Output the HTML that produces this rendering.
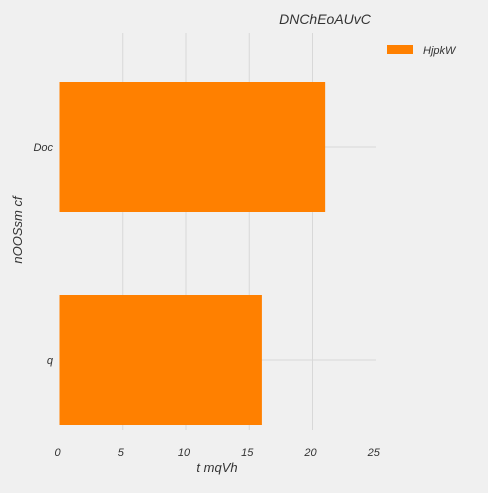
<!DOCTYPE html>
<html><head><meta charset="utf-8"><style>
body{margin:0;background:#f0f0f0;}
svg text{font-family:"Liberation Sans",sans-serif;font-style:italic;fill:#333;}
</style></head><body>
<svg width="488" height="488" xmlns="http://www.w3.org/2000/svg">
<rect width="488" height="488" fill="#f0f0f0"/>
<g id="grid"></g><g id="bars"></g><g id="labels"></g>
<text x="325" y="24" font-size="14" text-anchor="middle">DNChEoAUvC</text>
<rect x="387" y="45" width="26" height="9" fill="#ff8000"/>
<text x="423" y="54" font-size="11">HjpkW</text>
<text x="217" y="472" font-size="13" text-anchor="middle">t mqVh</text>
<text transform="translate(22,230) rotate(-90)" font-size="13" text-anchor="middle">nOOSsm cf</text>
</svg>
<script>
const categories=["Doc","q"];
const values=[21,16];
const xTicks=[0,5,10,15,20,25];
const ns="http://www.w3.org/2000/svg";
const x=v=>59.5+v*12.65;
const y=i=>147+i*213;
const g=document.getElementById('grid'),b=document.getElementById('bars'),l=document.getElementById('labels');
function mk(t,a,p){const e=document.createElementNS(ns,t);for(const k in a)e.setAttribute(k,a[k]);p.appendChild(e);return e;}
xTicks.forEach((t,k)=>{
 if(k>0&&k<xTicks.length-1){
 const ln=mk('line',{x1:x(t),x2:x(t),y1:33,y2:430,stroke:'#d8d8d8','stroke-width':1},g);
 
 
 }
 const tx=mk('text',{x:x(t)-2,y:456,'font-size':11,'text-anchor':'middle'},l);tx.textContent=t;
 
 
});
categories.forEach((c,i)=>{
 const ln=mk('line',{x1:59.5,x2:376,y1:y(i),y2:y(i),stroke:'#d8d8d8','stroke-width':1},g);
 
 
 const r=mk('rect',{x:x(0),y:y(i)-65,width:x(values[i])-x(0),height:130,fill:'#ff8000'},b);
 
 
 const tx=mk('text',{x:53,y:y(i)+4,'font-size':11,'text-anchor':'end'},l);tx.textContent=c;
 
 
});
</script>
</body></html>
